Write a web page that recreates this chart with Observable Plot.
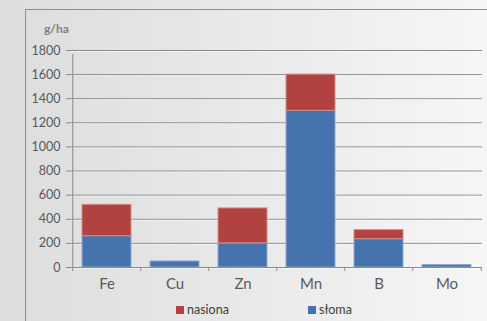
<!DOCTYPE html>
<html>
<head>
<meta charset="utf-8">
<script src="https://cdn.jsdelivr.net/npm/d3@7"></script>
<script src="https://cdn.jsdelivr.net/npm/@observablehq/plot@0.6"></script>
<style>
  html, body { margin: 0; padding: 0; background: #ececec; }
  #wrap {
    position: relative; width: 487px; height: 321px; overflow: hidden;
    background: linear-gradient(90deg, #dddddd 0%, #e6e6e6 40%, #f6f6f6 100%);
    font-family: Lato, "Noto Sans", sans-serif;
  }
  #frame {
    position: absolute; left: 25px; top: 9px; width: 480px; height: 330px;
    border-top: 1px solid #8f8f8f; border-left: 1px solid #8f8f8f;
  }
  #chart { position: absolute; left: 0; top: 0; }
  #unit {
    position: absolute; left: 44px; top: 21px;
    font-size: 12px; font-weight: bold; color: #7f7f7f;
  }
  #legend {
    position: absolute; top: 302px; left: 0; width: 487px; height: 16px;
    font-size: 12.5px; color: #404040;
  }
  #legend .item { position: absolute; top: 0; display: flex; align-items: center; }
  #legend .sw { width: 8px; height: 8px; margin-right: 3px; }
</style>
</head>
<body>
<div id="wrap">
  <div id="frame"></div>
  <div id="unit">g/ha</div>
  <div id="chart"></div>
  <div id="legend"></div>
</div>
<script>
// Micronutrient uptake (g/ha) split into seed and straw parts
const elements = ["Fe", "Cu", "Zn", "Mn", "B", "Mo"];
const straw = [260, 50, 200, 1300, 235, 20];   // słoma
const seeds = [260, 0, 290, 300, 75, 0];       // nasiona
const yTicks = [0, 200, 400, 600, 800, 1000, 1200, 1400, 1600, 1800];

const seriesNames = ["słoma", "nasiona"];
const seriesColors = ["#4673ad", "#b2423f"];
const seriesEdges = ["#8fa9cf", "#d38c89"];

const rows = elements.flatMap((el, i) => [
  {element: el, part: "słoma", value: straw[i]},
  {element: el, part: "nasiona", value: seeds[i]}
]);

const W = 487, H = 321;
const mL = 71, mR = 5, mT = 50, mB = 54;
const step = (W - mL - mR) / elements.length;

const chart = Plot.plot({
  width: W,
  height: H,
  marginLeft: mL,
  marginRight: mR,
  marginTop: mT,
  marginBottom: mB,
  style: {background: "transparent", fontFamily: "Lato, 'Noto Sans', sans-serif", overflow: "visible"},
  x: {domain: elements, paddingInner: 0.285, paddingOuter: 0.1425, label: null},
  y: {domain: [0, 1800], label: null},
  color: {domain: seriesNames, range: seriesColors},
  marks: [
    // horizontal gridlines
    Plot.ruleY(yTicks, {stroke: "#8a8a8a", strokeWidth: 1}),
    Plot.ruleY(yTicks, {stroke: "#ffffff", strokeOpacity: 0.5, strokeWidth: 1, dy: 1}),
    // stacked bars
    Plot.barY(rows, {
      x: "element",
      y: "value",
      fill: "part",
      stroke: (d) => seriesEdges[seriesNames.indexOf(d.part)],
      strokeWidth: 1,
      order: seriesNames,
      filter: (d) => d.value > 0
    }),
    // value axis line (left edge of the first category) with its tick below
    Plot.ruleX([elements[0]], {x: (d) => d, y1: 0, y2: 1800, dx: -step / 2, insetBottom: -4, stroke: "#8a8a8a"}),
    // category axis baseline
    Plot.ruleY([0], {stroke: "#8a8a8a"}),
    // category boundary ticks
    Plot.ruleX(elements, {x: (d) => d, y1: 0, y2: 0, dx: -step / 2, insetBottom: -4, stroke: "#8a8a8a"}),
    Plot.ruleX([elements[elements.length - 1]], {x: (d) => d, y1: 0, y2: 0, dx: step / 2, insetBottom: -4, stroke: "#8a8a8a"}),
    Plot.axisY({ticks: yTicks, tickSize: 5, tickPadding: 6, stroke: "#8a8a8a", fill: "#595959", fontSize: 12.5, tickFormat: (d) => String(d)}),
    Plot.axisX({tickSize: 0, tickPadding: 11, fill: "#595959", fontSize: 15})
  ]
});
document.getElementById("chart").appendChild(chart);

// legend
const legendItems = [
  {name: "nasiona", color: seriesColors[1], left: 176},
  {name: "słoma", color: seriesColors[0], left: 308}
];
const legend = document.getElementById("legend");
for (const it of legendItems) {
  const item = document.createElement("div");
  item.className = "item";
  item.style.left = it.left + "px";
  const sw = document.createElement("span");
  sw.className = "sw";
  sw.style.background = it.color;
  const label = document.createElement("span");
  label.textContent = it.name;
  item.appendChild(sw);
  item.appendChild(label);
  legend.appendChild(item);
}
</script>
</body>
</html>
